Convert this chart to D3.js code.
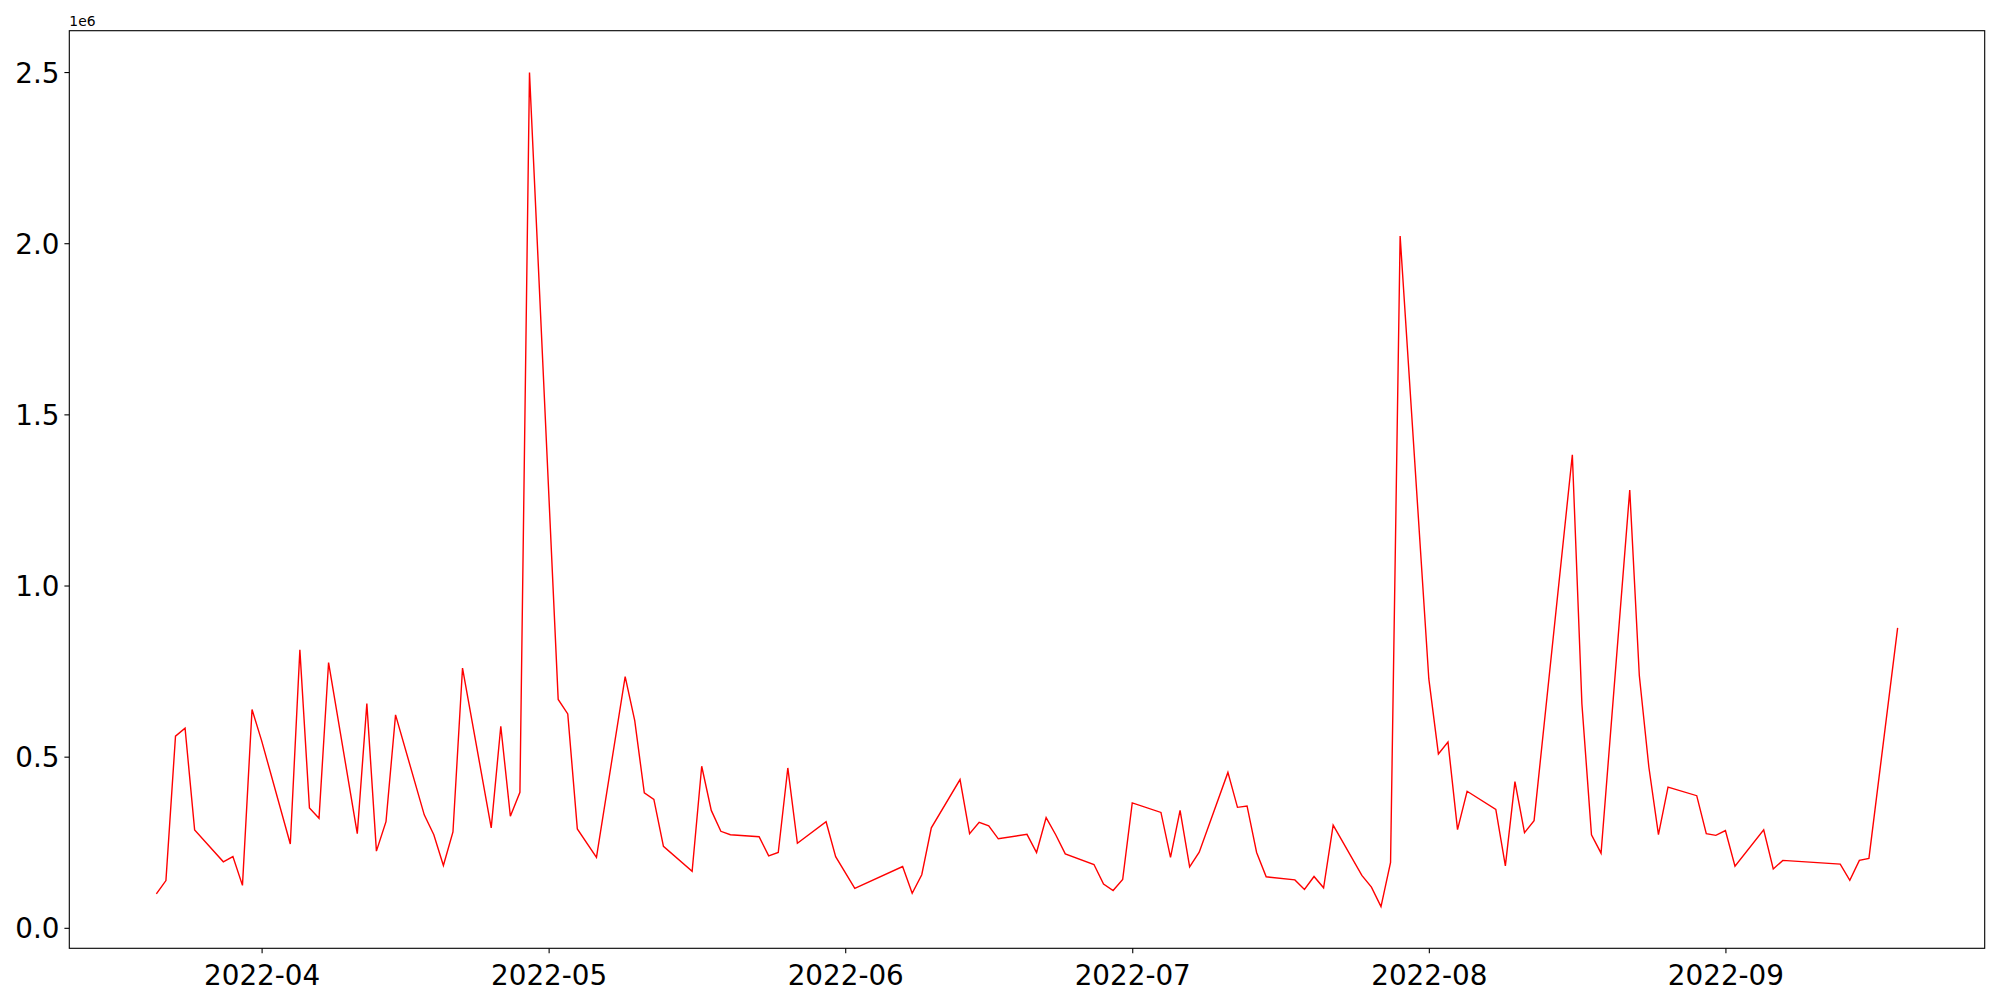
<!DOCTYPE html>
<html>
<head>
<meta charset="utf-8">
<script src="https://cdn.jsdelivr.net/npm/d3@7"></script>
<style>
  body { margin: 0; background: #fff; }
  svg { display: block; font-family: "DejaVu Sans", sans-serif; }
</style>
</head>
<body>
<div id="chart"></div>
<script>
// daily values
const dates = [
  "2022-03-21","2022-03-22","2022-03-23","2022-03-24","2022-03-25","2022-03-28","2022-03-29","2022-03-30","2022-03-31","2022-04-01",
  "2022-04-04","2022-04-05","2022-04-06","2022-04-07","2022-04-08","2022-04-11","2022-04-12","2022-04-13","2022-04-14","2022-04-15",
  "2022-04-18","2022-04-19","2022-04-20","2022-04-21","2022-04-22","2022-04-25","2022-04-26","2022-04-27","2022-04-28","2022-04-29",
  "2022-05-02","2022-05-03","2022-05-04","2022-05-06","2022-05-09","2022-05-10","2022-05-11","2022-05-12","2022-05-13","2022-05-16",
  "2022-05-17","2022-05-18","2022-05-19","2022-05-20","2022-05-23","2022-05-24","2022-05-25","2022-05-26","2022-05-27","2022-05-30",
  "2022-05-31","2022-06-02","2022-06-07","2022-06-08","2022-06-09","2022-06-10","2022-06-13","2022-06-14","2022-06-15","2022-06-16",
  "2022-06-17","2022-06-20","2022-06-21","2022-06-22","2022-06-23","2022-06-24","2022-06-27","2022-06-28","2022-06-29","2022-06-30",
  "2022-07-01","2022-07-04","2022-07-05","2022-07-06","2022-07-07","2022-07-08","2022-07-11","2022-07-12","2022-07-13","2022-07-14",
  "2022-07-15","2022-07-18","2022-07-19","2022-07-20","2022-07-21","2022-07-22","2022-07-25","2022-07-26","2022-07-27","2022-07-28",
  "2022-07-29","2022-08-01","2022-08-02","2022-08-03","2022-08-04","2022-08-05","2022-08-08","2022-08-09","2022-08-10","2022-08-11",
  "2022-08-12","2022-08-16","2022-08-17","2022-08-18","2022-08-19","2022-08-22","2022-08-23","2022-08-24","2022-08-25","2022-08-26",
  "2022-08-29","2022-08-30","2022-08-31","2022-09-01","2022-09-02","2022-09-05","2022-09-06","2022-09-07","2022-09-13","2022-09-14",
  "2022-09-15","2022-09-16","2022-09-19"
];
const values = [
  99000, 138000, 560000, 583000, 286000, 193000, 208000, 124000, 638000, 547000,
  245000, 812000, 350000, 320000, 775000, 275000, 655000, 224000, 310000, 622000,
  330000, 272000, 182000, 280000, 759000, 292000, 589000, 326000, 396000, 2499000,
  667000, 625000, 289000, 206000, 734000, 605000, 394000, 375000, 238000, 165000,
  472000, 343000, 282000, 272000, 266000, 210000, 220000, 467000, 247000, 310000,
  208000, 115000, 179000, 101000, 155000, 292000, 433000, 275000, 308000, 298000,
  260000, 273000, 220000, 322000, 272000, 216000, 185000, 128000, 109000, 141000,
  365000, 337000, 206000, 343000, 178000, 221000, 454000, 352000, 356000, 220000,
  149000, 140000, 112000, 150000, 117000, 300000, 153000, 119000, 62000, 191000,
  2021000, 727000, 508000, 543000, 287000, 399000, 346000, 181000, 427000, 278000,
  313000, 1382000, 654000, 272000, 218000, 1279000, 737000, 469000, 272000, 411000,
  386000, 275000, 270000, 284000, 180000, 286000, 172000, 197000, 186000, 139000,
  197000, 203000, 876000
];
const yTicks = [0, 500000, 1000000, 1500000, 2000000, 2500000];
const offsetLabel = "1e6";

const W = 2000, H = 1000;
const margin = {left: 69.3, right: 15.3, top: 30.7, bottom: 51.7};
const iw = W - margin.left - margin.right;
const ih = H - margin.top - margin.bottom;

const parse = d3.timeParse("%Y-%m-%d");
const data = dates.map((d, i) => ({date: parse(d), value: values[i]}));

// 5% margins like matplotlib
const [x0, x1] = d3.extent(data, d => d.date);
const xpad = (x1 - x0) * 0.05;
const [y0, y1] = d3.extent(data, d => d.value);
const ypad = (y1 - y0) * 0.05;

const x = d3.scaleTime()
  .domain([new Date(+x0 - xpad), new Date(+x1 + xpad)])
  .range([0, iw]);
const y = d3.scaleLinear()
  .domain([y0 - ypad, y1 + ypad])
  .range([ih, 0]);

const svg = d3.select("#chart").append("svg")
  .attr("width", W)
  .attr("height", H);
svg.append("rect").attr("width", W).attr("height", H).attr("fill", "#fff");

const g = svg.append("g").attr("transform", `translate(${margin.left},${margin.top})`);

const line = d3.line()
  .x(d => x(d.date))
  .y(d => y(d.value));

g.append("path")
  .datum(data)
  .attr("fill", "none")
  .attr("stroke", "red")
  .attr("stroke-width", 1.4)
  .attr("stroke-linejoin", "miter")
  .attr("d", line);

// axes
const xAxis = d3.axisBottom(x)
  .ticks(d3.timeMonth.every(1))
  .tickFormat(d3.timeFormat("%Y-%m"))
  .tickSize(4.9)
  .tickPadding(4.9);
const yAxis = d3.axisLeft(y)
  .tickValues(yTicks)
  .tickFormat(d => (d / 1e6).toFixed(1))
  .tickSize(4.9)
  .tickPadding(4.9);

const gx = g.append("g").attr("transform", `translate(0,${ih})`).call(xAxis);
const gy = g.append("g").call(yAxis);

[gx, gy].forEach(a => {
  a.select(".domain").remove();
  a.selectAll(".tick line").attr("stroke", "#000").attr("stroke-width", 1.1);
  a.selectAll(".tick text")
    .attr("fill", "#000")
    .style("font-family", "'DejaVu Sans', sans-serif")
    .style("font-size", "27.8px");
});
gx.selectAll(".tick text").attr("dy", "0.95em");
gy.selectAll(".tick text").attr("dy", "0.36em");

// frame
g.append("rect")
  .attr("width", iw)
  .attr("height", ih)
  .attr("fill", "none")
  .attr("stroke", "#000")
  .attr("stroke-width", 1.1);

// scientific offset text
g.append("text")
  .attr("x", 0)
  .attr("y", -5)
  .style("font-size", "13.9px")
  .text(offsetLabel);
</script>
</body>
</html>
